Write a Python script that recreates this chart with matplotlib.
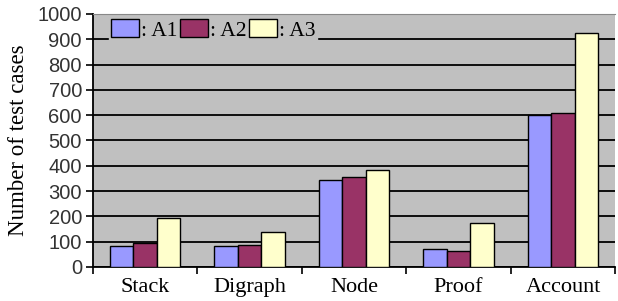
import numpy as np
import matplotlib.pyplot as plt
from matplotlib.patches import Patch

programs = ['Stack', 'Digraph', 'Node', 'Proof', 'Account']
a1 = [83, 82, 345, 70, 600]
a2 = [96, 88, 355, 63, 607]
a3 = [195, 138, 385, 175, 925]
series_names = [': A1', ': A2', ': A3']
colors = ['#9999FF', '#993366', '#FFFFCC']

fig = plt.figure(figsize=(6.18, 3.01), dpi=100)
ax = fig.add_axes([0.1505, 0.113, 0.845, 0.8405])
ax.set_facecolor('#C0C0C0')

x = np.arange(len(programs))
w = 0.225
for k, vals in enumerate([a1, a2, a3]):
    ax.bar(x + (k - 1) * w, vals, w, color=colors[k], edgecolor='black', linewidth=1.0, zorder=3)

ax.set_xlim(-0.5, len(programs) - 0.5)
ax.set_ylim(0, 1000)
ax.set_yticks(np.arange(0, 1001, 100))
ax.yaxis.grid(True, color='black', linewidth=1.3, zorder=1)
ax.set_axisbelow(True)

ax.set_xticks(x)
ax.set_xticklabels(programs, fontfamily='Liberation Serif', fontsize=16)
ax.set_xticks(np.arange(-0.5, len(programs), 1), minor=True)
ax.tick_params(axis='x', which='major', length=0, pad=8)
ax.tick_params(axis='x', which='minor', length=5, width=1.2, direction='out')
ax.tick_params(axis='y', length=5, width=1.2, pad=3)
for lab in ax.get_yticklabels():
    lab.set_fontfamily('Liberation Sans')
    lab.set_fontsize(14.5)
    lab.set_color('#333333')

ax.set_ylabel('Number of test cases', fontfamily='Liberation Serif', fontsize=16.5, labelpad=6)

ax.spines['left'].set_linewidth(1.3)
ax.spines['bottom'].set_linewidth(1.3)
ax.spines['top'].set_color('#888888')
ax.spines['right'].set_visible(False)

handles = [Patch(facecolor=c, edgecolor='black', linewidth=1.0) for c in colors]
leg = ax.legend(handles, series_names, loc='upper left', bbox_to_anchor=(0.01, 1.03), ncol=3,
                frameon=True, facecolor='#C0C0C0', edgecolor='#C0C0C0', framealpha=1,
                prop={'family': 'Liberation Serif', 'size': 15.5}, handlelength=1.3, handleheight=0.9,
                handletextpad=0.1, columnspacing=0.1, borderpad=0.1, fancybox=False)
leg.set_zorder(5)

fig.savefig('out.png', dpi=100)
